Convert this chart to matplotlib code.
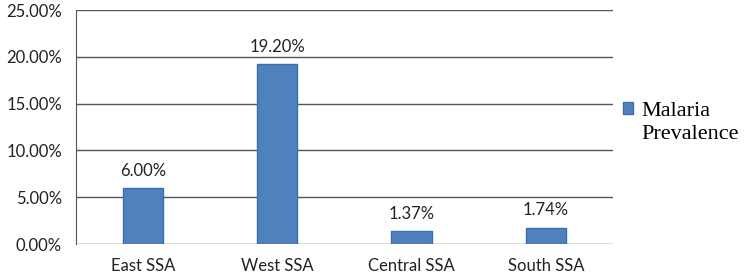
import matplotlib
matplotlib.use("Agg")
import matplotlib.pyplot as plt
from matplotlib.ticker import FuncFormatter

regions = ["East SSA", "West SSA", "Central SSA", "South SSA"]
prevalence = [6.00, 19.20, 1.37, 1.74]
labels = ["6.00%", "19.20%", "1.37%", "1.74%"]

plt.rcParams['font.family'] = ['Lato', 'DejaVu Sans']

fig = plt.figure(figsize=(7.44, 2.78), dpi=100)
ax = fig.add_axes([0.102, 0.122, 0.722, 0.842])

bars = ax.bar(range(len(regions)), prevalence, width=0.3, color='#4F81BD',
              edgecolor='#3A6EB0', linewidth=1.0, zorder=3)

for i, (v, t) in enumerate(zip(prevalence, labels)):
    ax.text(i, v + 1.0, t, ha='center', va='bottom', fontsize=12, color='#222222')

ax.set_ylim(0, 25)
ax.set_xlim(-0.5, 3.5)
ax.set_yticks([0, 5, 10, 15, 20, 25])
ax.yaxis.set_major_formatter(FuncFormatter(lambda y, _: f"{y:.2f}%"))
ax.grid(axis='y', color='#555555', linewidth=1.0, zorder=0)
ax.set_xticks(range(len(regions)))
ax.set_xticklabels(regions)
ax.tick_params(axis='both', length=0, labelsize=12, colors='#222222')
ax.tick_params(axis='x', pad=10)
ax.tick_params(axis='y', pad=10)

for s in ['top', 'right', 'bottom']:
    ax.spines[s].set_visible(False)
ax.spines['left'].set_color('#555555')

# legend: marker sits beside the first line, second line wraps under the text
legend_font = {'family': 'Liberation Serif', 'size': 16}
fig.legend(handles=[bars], labels=['Malaria'], loc='center left',
           bbox_to_anchor=(0.838, 0.60), frameon=False, handlelength=0.45,
           handleheight=0.45, handletextpad=0.35, borderaxespad=0, borderpad=0,
           prop=legend_font)
fig.text(0.862, 0.517, 'Prevalence', ha='left', va='center',
         fontdict=legend_font)

fig.savefig("out.png", dpi=100)
